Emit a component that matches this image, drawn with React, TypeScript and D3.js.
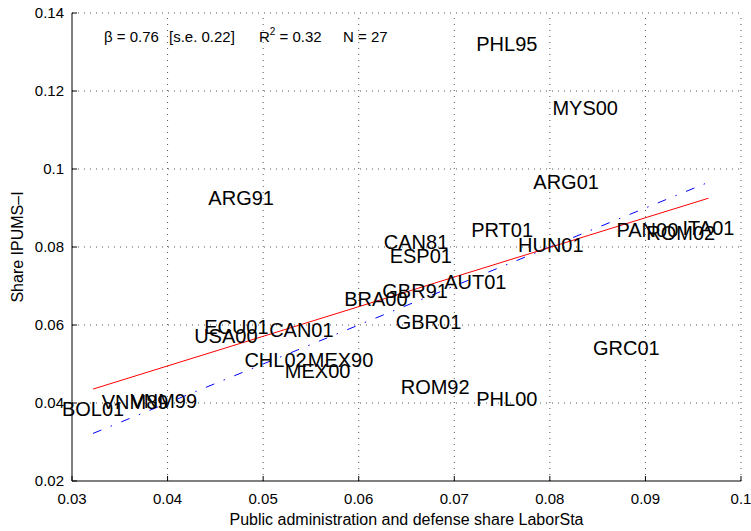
import React from "react";
import * as d3 from "d3";

// Country-year observations: LaborSta share (x) vs IPUMS-I share (y)
const countries = [
  "PHL95", "MYS00", "ARG01", "ARG91", "PRT01", "HUN01", "PAN00", "ROM02", "ITA01",
  "CAN81", "ESP01", "AUT01", "GBR91", "BRA00", "GBR01", "ECU01", "CAN01", "USA00",
  "CHL02", "MEX90", "MEX00", "GRC01", "ROM92", "PHL00", "BOL01", "VNM89", "VNM99",
];
const laborStaShare = [
  0.0755, 0.0837, 0.0817, 0.0477, 0.0750, 0.0801, 0.0902, 0.0937, 0.0966,
  0.0660, 0.0665, 0.0722, 0.0659, 0.0618, 0.0673, 0.0472, 0.0540, 0.0461,
  0.0513, 0.0581, 0.0557, 0.0880, 0.0680, 0.0755, 0.0322, 0.0366, 0.0396,
];
const ipumsShare = [
  0.1321, 0.1156, 0.0967, 0.0927, 0.0844, 0.0806, 0.0843, 0.0837, 0.0848,
  0.0814, 0.0778, 0.0710, 0.0688, 0.0667, 0.0607, 0.0596, 0.0587, 0.0573,
  0.0512, 0.0512, 0.0483, 0.0542, 0.0441, 0.0411, 0.0384, 0.0402, 0.0405,
];

// Fitted regression
const beta = 0.76;
const betaSE = 0.22;
const intercept = 0.0191;
const rSquared = 0.32;

const xTicks = [0.03, 0.04, 0.05, 0.06, 0.07, 0.08, 0.09, 0.1];
const yTicks = [0.02, 0.04, 0.06, 0.08, 0.1, 0.12, 0.14];

const xLabel = "Public administration and defense share LaborSta";
const yLabel = "Share IPUMS\u2013I";

const W = 751;
const H = 531;
const margin = { left: 72, right: 10, top: 13, bottom: 50 };
const FONT = "'Liberation Sans', Arial, Helvetica, sans-serif";

export default function App() {
  const x = d3.scaleLinear().domain([0.03, 0.1]).range([margin.left, W - margin.right]);
  const y = d3.scaleLinear().domain([0.02, 0.14]).range([H - margin.bottom, margin.top]);
  const [x0, x1] = x.range();
  const [yb, yt] = y.range();

  const xmin = d3.min(laborStaShare) as number;
  const xmax = d3.max(laborStaShare) as number;

  const line = d3
    .line<number>()
    .x((v) => x(v))
    .y((v) => y(v));
  const fitLine = d3
    .line<number>()
    .x((v) => x(v))
    .y((v) => y(intercept + beta * v));

  const fmt = (v: number) => String(+v.toFixed(2));

  return (
    <svg
      width={W}
      height={H}
      style={{ position: "absolute", left: 0, top: 0, background: "#fff" }}
      fontFamily={FONT}
    >
      {/* dotted grid */}
      <g stroke="#555" strokeWidth={1} strokeDasharray="1,5">
        {xTicks.slice(1).map((t) => (
          <line key={"gx" + t} x1={x(t)} x2={x(t)} y1={yb} y2={yt} />
        ))}
        {yTicks.slice(1).map((t) => (
          <line key={"gy" + t} x1={x0} x2={x1} y1={y(t)} y2={y(t)} />
        ))}
      </g>

      {/* axes with inward ticks */}
      <g stroke="#000" strokeWidth={1}>
        <line x1={x0} x2={x0} y1={yb} y2={yt} />
        <line x1={x0} x2={x1} y1={yb} y2={yb} />
        {xTicks.map((t) => (
          <line key={"tx" + t} x1={x(t)} x2={x(t)} y1={yb} y2={yb - 5} />
        ))}
        {yTicks.map((t) => (
          <line key={"ty" + t} x1={x0} x2={x0 + 5} y1={y(t)} y2={y(t)} />
        ))}
      </g>

      {/* tick labels */}
      <g fontSize={15} fill="#000">
        {xTicks.map((t) => (
          <text key={"lx" + t} x={x(t)} y={yb + 22.5} textAnchor="middle">
            {fmt(t)}
          </text>
        ))}
        {yTicks.map((t) => (
          <text key={"ly" + t} x={x0 - 8} y={y(t)} dy="0.36em" textAnchor="end">
            {fmt(t)}
          </text>
        ))}
      </g>

      {/* axis titles */}
      <text x={(x0 + x1) / 2} y={524.5} textAnchor="middle" fontSize={16}>
        {xLabel}
      </text>
      <text
        transform={`translate(22.5,${(yb + yt) / 2}) rotate(-90)`}
        textAnchor="middle"
        fontSize={16}
      >
        {yLabel}
      </text>

      {/* 45-degree reference line and fitted line */}
      <path
        d={line([xmin, xmax]) as string}
        fill="none"
        stroke="#0000ff"
        strokeWidth={1}
        strokeDasharray="9,10,1.5,10"
      />
      <path d={fitLine([xmin, xmax]) as string} fill="none" stroke="#ff0000" strokeWidth={1} />

      {/* country-year labels centred on each observation */}
      <g fontSize={20} fill="#000">
        {countries.map((c, i) => (
          <text
            key={c}
            x={x(laborStaShare[i])}
            y={y(ipumsShare[i])}
            dy="0.36em"
            textAnchor="middle"
          >
            {c}
          </text>
        ))}
      </g>

      {/* regression statistics */}
      <text fontSize={15} y={41.5}>
        <tspan x={104}>{`\u03b2 = ${beta.toFixed(2)}`}</tspan>
        <tspan x={169}>{`[s.e. ${betaSE.toFixed(2)}]`}</tspan>
        <tspan x={259}>R</tspan>
        <tspan fontSize={10} dy={-7}>2</tspan>
        <tspan dy={7}>{` = ${rSquared.toFixed(2)}`}</tspan>
        <tspan x={343}>{`N = ${countries.length}`}</tspan>
      </text>
    </svg>
  );
}
